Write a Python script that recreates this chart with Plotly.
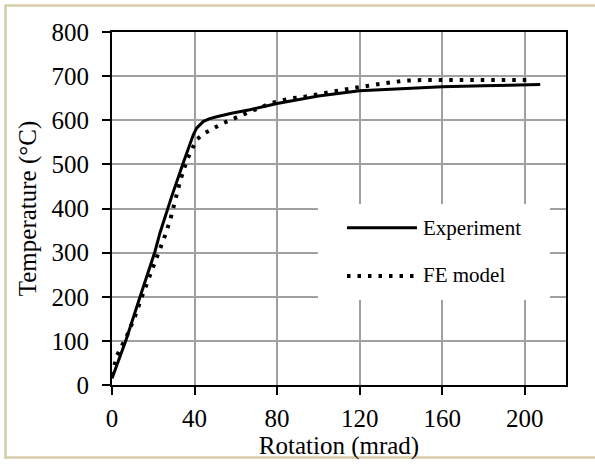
import plotly.graph_objects as go

# Experiment curve (rotation in mrad, temperature in °C)
exp_rot = [0, 6.8, 13.6, 20.8, 23.2, 26, 28.9, 34.5, 39.4, 41, 42.6, 44.2, 47, 50.7,
           58, 66.8, 80, 91, 100, 120, 140, 160, 180, 200, 207.5]
exp_temp = [15, 102, 200, 302, 344, 385, 427, 503, 567, 582, 590, 597, 603, 608,
            616, 624, 638, 648, 655, 667, 672, 676, 678, 680, 681]

# FE model curve
fe_rot = [0, 2.3, 7.1, 11.1, 14.4, 18.1, 21.9, 25.8, 28.2, 30.8, 33.3, 36.5, 38.6, 41,
          44.6, 49, 53.6, 58.1, 62.8, 67.6, 72.5, 77.3, 82.2, 87, 91.9, 96.9, 101.9,
          106.9, 111.9, 116.9, 121.9, 126.9, 132.1, 137.1, 142.1, 150, 170, 190, 204]
fe_temp = [22, 66, 110, 155, 199, 244, 287, 340, 374, 420, 467, 512, 534, 556,
           570, 582, 593, 602, 612, 621, 630, 639, 645, 650, 652, 657, 661,
           665, 669, 673, 678, 681, 684, 687, 690, 691, 691, 691, 691]

x_ticks = [0, 40, 80, 120, 160, 200]
y_ticks = [0, 100, 200, 300, 400, 500, 600, 700, 800]

FONT = "Liberation Serif, Times New Roman, serif"
DOT = "3.5px,7px"

fig = go.Figure()
fig.add_trace(go.Scatter(x=exp_rot, y=exp_temp, mode="lines", name="Experiment",
                         line=dict(color="black", width=3), showlegend=False))
fig.add_trace(go.Scatter(x=fe_rot, y=fe_temp, mode="lines", name="FE model",
                         line=dict(color="black", width=4, dash=DOT), showlegend=False))

W, H = 595, 466
L, R, T, B = 112, 29, 32, 81
pw, ph = W - L - R, H - T - B


def px(x):
    return (x - L) / pw


def py(y):
    return (H - B - y) / ph


shapes = [
    # outer tan frame
    dict(type="rect", xref="paper", yref="paper", x0=px(5.5), x1=px(602),
         y0=py(457.5), y1=py(5.5), line=dict(color="#d6cca6", width=2.5),
         fillcolor="rgba(0,0,0,0)", layer="above"),
    # legend box
    dict(type="rect", xref="paper", yref="paper", x0=px(318), x1=px(550),
         y0=py(300), y1=py(204), line=dict(width=0), fillcolor="white", layer="above"),
    dict(type="line", xref="paper", yref="paper", x0=px(347), x1=px(417),
         y0=py(227.7), y1=py(227.7), line=dict(color="black", width=3), layer="above"),
    dict(type="line", xref="paper", yref="paper", x0=px(347), x1=px(418),
         y0=py(276), y1=py(276), line=dict(color="black", width=4, dash=DOT), layer="above"),
]

annotations = [
    dict(text="Experiment", xref="paper", yref="paper", x=px(421), y=py(228),
         xanchor="left", yanchor="middle", showarrow=False,
         font=dict(family=FONT, size=21, color="black")),
    dict(text="FE model", xref="paper", yref="paper", x=px(421), y=py(275),
         xanchor="left", yanchor="middle", showarrow=False,
         font=dict(family=FONT, size=21, color="black")),
]

fig.update_layout(
    width=W, height=H,
    margin=dict(l=L, r=R, t=T, b=B),
    paper_bgcolor="white", plot_bgcolor="white",
    font=dict(family=FONT, size=25, color="black"),
    shapes=shapes, annotations=annotations,
    showlegend=False,
)
fig.update_xaxes(range=[0, 220], tickvals=x_ticks, ticks="outside", ticklen=8,
                 tickwidth=1.5, tickcolor="black", showline=True, linecolor="black",
                 linewidth=2, mirror=True, showgrid=True, gridcolor="#a0a0a0",
                 gridwidth=1.5, zeroline=False,
                 title=dict(text="Rotation (mrad)", font=dict(size=25), standoff=2),
                 tickfont=dict(size=25), ticklabelstandoff=2)
fig.update_yaxes(range=[0, 800], tickvals=y_ticks, ticks="outside", ticklen=8,
                 tickwidth=1.5, tickcolor="black", showline=True, linecolor="black",
                 linewidth=2, mirror=True, showgrid=True, gridcolor="#a0a0a0",
                 gridwidth=1.5, zeroline=False,
                 title=dict(text="Temperature (°C)", font=dict(size=25), standoff=8),
                 tickfont=dict(size=25), ticklabelstandoff=8)

fig.write_html("out.html")
